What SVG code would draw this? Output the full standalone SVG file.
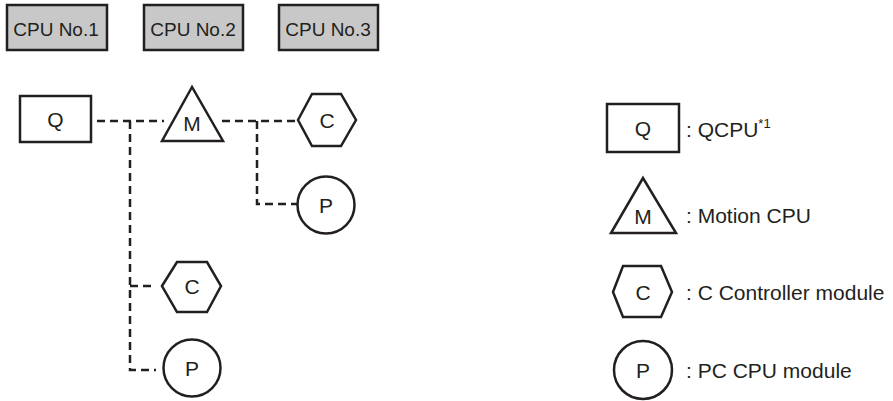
<svg xmlns="http://www.w3.org/2000/svg" width="893" height="401" viewBox="0 0 893 401">
<style>
.cpu{fill:#c8c8c8;stroke:#231f20;stroke-width:2.5}
.sh{fill:#fff;stroke:#231f20;stroke-width:2.5}
.t{font-family:"Liberation Sans",Arial,sans-serif;fill:#231f20}
.ct{font-size:19px;text-anchor:middle}
.nt{font-size:21px;text-anchor:middle}
.lt{font-size:21px}
.d{fill:none;stroke:#231f20;stroke-width:2.5;stroke-dasharray:8 5}
</style>
<rect width="893" height="401" fill="#fff"/>
<g id="cpu1"><rect class="cpu" x="7" y="5" width="100" height="45"/><text class="t ct" x="56" y="36">CPU No.1</text></g>
<g id="cpu2"><rect class="cpu" x="144" y="5" width="99" height="45"/><text class="t ct" x="193" y="36">CPU No.2</text></g>
<g id="cpu3"><rect class="cpu" x="279" y="5" width="99" height="45"/><text class="t ct" x="328" y="36">CPU No.3</text></g>
<g id="connectors">
<path class="d" d="M97 121H164"/>
<path class="d" d="M222 121H297"/>
<path class="d" d="M130 121V370H156"/>
<path class="d" d="M130 286H156"/>
<path class="d" d="M257 121V204H297"/>
</g>
<g id="q"><rect class="sh" x="20" y="96" width="71" height="46"/><text class="t nt" x="55.5" y="127">Q</text></g>
<g id="m"><path class="sh" d="M192 87L162 141H223Z"/><text class="t nt" x="192" y="131">M</text></g>
<g id="c1"><path class="sh" d="M298 120L312 94H341L356 120L341 146H312Z"/><text class="t nt" x="327" y="128">C</text></g>
<g id="p1"><circle class="sh" cx="326" cy="205" r="28.5"/><text class="t nt" x="326" y="213">P</text></g>
<g id="c2"><path class="sh" d="M162 286L177 262H207L221 286L207 312H177Z"/><text class="t nt" x="192" y="294">C</text></g>
<g id="p2"><circle class="sh" cx="192" cy="368" r="28.5"/><text class="t nt" x="192" y="376">P</text></g>
<g id="legend">
<rect class="sh" x="607" y="104" width="72" height="48"/><text class="t nt" x="643" y="136">Q</text>
<text class="t lt" x="686" y="137">: QCPU<tspan font-size="13" dy="-9">*1</tspan></text>
<path class="sh" d="M643 178L611 233H676Z"/><text class="t nt" x="643" y="224">M</text>
<text class="t lt" x="686" y="223">: Motion CPU</text>
<path class="sh" d="M613 292L623 266H661L672 292L661 317H623Z"/><text class="t nt" x="643" y="300">C</text>
<text class="t lt" x="686" y="300">: C Controller module</text>
<circle class="sh" cx="643" cy="370" r="29"/><text class="t nt" x="643" y="378">P</text>
<text class="t lt" x="686" y="378">: PC CPU module</text>
</g>
</svg>
